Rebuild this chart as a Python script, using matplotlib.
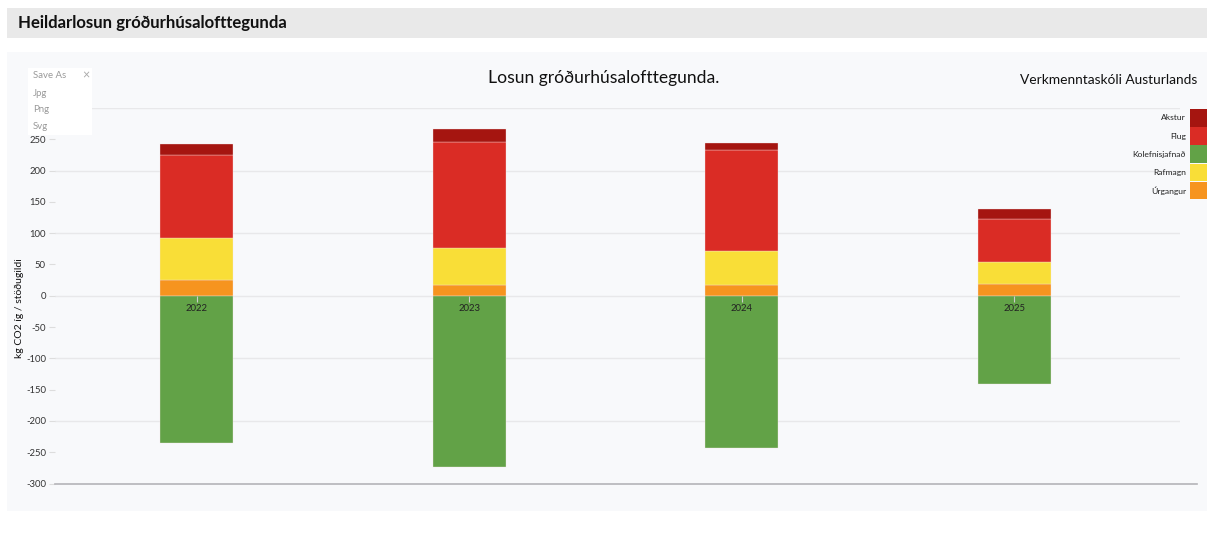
import matplotlib
matplotlib.use("Agg")
import matplotlib.pyplot as plt
from matplotlib.patches import Rectangle
import numpy as np

plt.rcParams['font.family'] = ['Lato', 'DejaVu Sans']

# data
years = ['2022', '2023', '2024', '2025']
urgangur = [25, 17, 16.5, 18]
rafmagn = [68, 60, 55, 36]
flug = [132.5, 168, 162, 69]
akstur = [17.5, 21, 10.5, 16]
kolefnisjofnun = [-236, -273, -244, -141]

legend_names = ['Akstur', 'Flug', 'Kolefnisjafnað', 'Rafmagn', 'Úrgangur']
colors = {'Akstur': '#a51510', 'Flug': '#da2c25', 'Kolefnisjafnað': '#62a247',
          'Rafmagn': '#f9de37', 'Úrgangur': '#f6941f'}

yticks = np.arange(-300, 300, 50)
ygrid = [300, 200, 100, 0, -100, -200]

W, H = 1207, 539
fig = plt.figure(figsize=(W / 100, H / 100), dpi=100)
fig.patch.set_facecolor('white')


def px(x, y, w, h):
    # pixel box (top-left origin) -> figure fraction
    return (x / W, 1 - (y + h) / H, w / W, h / H)


# header bar and chart panel
x0, y0, w0, h0 = px(7, 8, 1200, 30)
fig.patches.append(Rectangle((x0, y0), w0, h0, transform=fig.transFigure,
                             facecolor='#e9e9e9', edgecolor='none', zorder=-10))
fig.text(18 / W, 1 - 23 / H, 'Heildarlosun gróðurhúsalofttegunda', fontsize=12.1,
         fontweight='bold', color='#111111', va='center', ha='left')
x0, y0, w0, h0 = px(7, 52, 1200, 459)
fig.patches.append(Rectangle((x0, y0), w0, h0, transform=fig.transFigure,
                             facecolor='#f8f9fb', edgecolor='none', zorder=-10))

ax = fig.add_axes(px(55, 108, 1125, 375.5))
ax.set_facecolor('none')
ax.set_xlim(-0.519, 3.607)
ax.set_ylim(-300, 300)

x = np.arange(len(years))
bw = 0.268
edge = dict(edgecolor='#f4e4e4', linewidth=0.25, zorder=3)
bottom = np.zeros(len(years))
for name, vals in [('Úrgangur', urgangur), ('Rafmagn', rafmagn),
                   ('Flug', flug), ('Akstur', akstur)]:
    ax.bar(x, vals, bw, bottom=bottom, color=colors[name], **edge)
    bottom += np.array(vals)
ax.bar(x, kolefnisjofnun, bw, color=colors['Kolefnisjafnað'], **edge)

for g in ygrid:
    ax.axhline(g, color='#e8e8ea', linewidth=1, zorder=1)
ax.plot([0, 1.015], [-300, -300], transform=ax.get_yaxis_transform(),
        color='#b4b4b8', linewidth=1.2, clip_on=False, zorder=2)

for s in ['top', 'right', 'left']:
    ax.spines[s].set_visible(False)
ax.spines['bottom'].set_position(('data', 0))
ax.spines['bottom'].set_visible(False)

ax.set_yticks(yticks)
ax.set_yticklabels([str(v) for v in yticks])
ax.tick_params(axis='y', length=4, width=0.8, color='#dddddd', pad=2.5,
               labelsize=6.8, labelcolor='#333333')
ax.set_xticks(x)
ax.set_xticklabels(years)
ax.tick_params(axis='x', length=4, width=0.8, color='#cccccc', pad=2,
               labelsize=6.8, labelcolor='#222222')
ax.xaxis.set_zorder(5)

ax.set_ylabel('kg CO2 íg / stöðugildi', fontsize=7.5, color='#111111')
ax.yaxis.set_label_coords(-31 / 1125, (483.5 - 308) / 375.5)

fig.text(604 / W, 1 - 78 / H, 'Losun gróðurhúsalofttegunda.', fontsize=12.6,
         ha='center', va='center', color='#111111')
fig.text(1197 / W, 1 - 80 / H, 'Verkmenntaskóli Austurlands', fontsize=9.9,
         ha='right', va='center', color='#111111')

# legend at the right edge
for i, name in enumerate(legend_names):
    top = 109 + i * 18.2
    bx, by, bw_, bh = px(1190, top, 17, 17.5)
    fig.patches.append(Rectangle((bx, by), bw_, bh, transform=fig.transFigure,
                                 facecolor=colors[name], edgecolor='none', zorder=3))
    fig.text(1186 / W, 1 - (top + 9) / H, name, fontsize=6.1, ha='right',
             va='center', color='#222222')

# export menu box
bx, by, bw_, bh = px(28, 68, 64, 67)
fig.patches.append(Rectangle((bx, by), bw_, bh, transform=fig.transFigure,
                             facecolor='white', edgecolor='none', zorder=6))
fig.text(33 / W, 1 - 76 / H, 'Save As', fontsize=6.9, color='#999999',
         va='center', ha='left', zorder=7)
fig.text(86 / W, 1 - 75 / H, '×', fontsize=9, color='#aaaaaa', va='center',
         ha='center', zorder=7)
for j, lab in enumerate(['Jpg', 'Png', 'Svg']):
    fig.text(33 / W, 1 - (93 + j * 16.8) / H, lab, fontsize=6.9, color='#999999',
             va='center', ha='left', zorder=7)

fig.savefig('out.png', dpi=100)
